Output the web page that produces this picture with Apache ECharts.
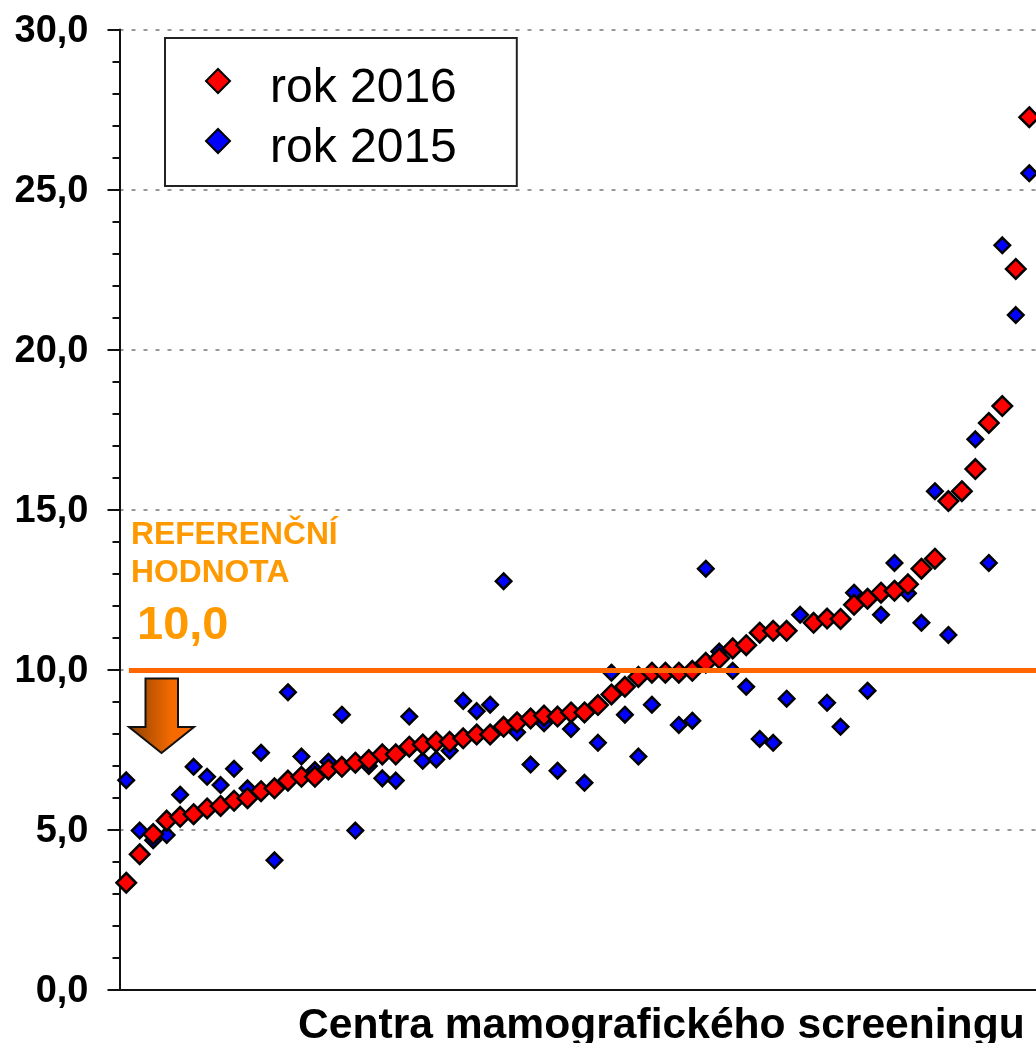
<!DOCTYPE html>
<html>
<head>
<meta charset="utf-8">
<style>html,body{margin:0;padding:0;background:#fff}#c{width:1036px;height:1043px}</style>
<script src="https://cdn.jsdelivr.net/npm/echarts@6/dist/echarts.min.js"></script>
</head>
<body>
<div id="c"></div>
<script>
const seriesNames = ['rok 2016', 'rok 2015'];
const values2016 = [3.35,4.24,4.87,5.29,5.41,5.49,5.67,5.75,5.91,5.99,6.21,6.30,6.54,6.66,6.66,6.89,6.97,7.10,7.18,7.36,7.36,7.60,7.67,7.75,7.75,7.86,7.98,7.98,8.22,8.36,8.48,8.57,8.54,8.67,8.67,8.90,9.23,9.47,9.78,9.91,9.91,9.91,9.97,10.22,10.36,10.67,10.77,11.16,11.22,11.22,null,11.47,11.60,11.59,12.03,12.22,12.41,12.47,12.67,13.16,13.47,15.27,15.58,16.27,17.71,18.24,22.52,27.26];
const values2015 = [6.55,4.98,4.68,4.84,6.10,6.97,6.66,6.40,6.91,6.30,7.41,4.05,9.30,7.29,6.87,7.13,8.60,4.98,7.00,6.61,6.54,8.54,7.16,7.20,7.47,9.03,8.71,8.91,12.77,8.05,7.04,8.33,6.85,8.15,6.47,7.72,9.91,8.60,7.29,8.91,null,8.28,8.41,13.16,10.57,9.97,9.47,7.84,7.72,9.10,11.72,null,8.97,8.22,12.41,9.35,11.72,13.34,12.39,11.47,15.58,11.09,null,17.20,13.34,23.26,21.08,25.51];
const referenceValue = 10;
const referenceSpan = [1.2, 68.5];
const centreCount = 68;
const yTicks = {min: 0, max: 30, step: 5};
const xTitle = 'Centra mamografického screeningu';
const refLines = ['REFERENČNÍ', 'HODNOTA'];
const refLabel = '10,0';

const toPoints = arr => arr.map((v, i) => v == null ? null : [i + 1, v]).filter(Boolean);
const FONT = '"Liberation Sans", Arial, sans-serif';
const chart = echarts.init(document.getElementById('c'), null, {renderer: 'canvas'});
chart.setOption({
  animation: false,
  backgroundColor: '#fff',
  grid: {left: 119.5, right: 0, top: 29.5, bottom: 53, containLabel: false},
  title: {text: xTitle, left: 298, top: 1004.5, padding: 0, textStyle: {fontFamily: FONT, fontWeight: 'bold', fontSize: 42.6, color: '#000'}},
  legend: {
    left: 165, top: 38, orient: 'vertical', icon: 'diamond', data: seriesNames,
    itemWidth: 24, itemHeight: 24, itemGap: -4, padding: [11, 60, 13, 40],
    backgroundColor: '#fff', borderColor: '#222', borderWidth: 2, borderRadius: 0, z: 20,
    formatter: name => '{a|' + name + '}',
    textStyle: {rich: {a: {fontFamily: FONT, fontSize: 48, lineHeight: 40, color: '#000', padding: [16, 0, 0, 35]}}}
  },
  xAxis: {
    type: 'value', min: 0.5, max: centreCount + 0.5,
    axisLine: {show: true, onZero: false, lineStyle: {color: '#111', width: 2}},
    axisTick: {show: false}, axisLabel: {show: false}, splitLine: {show: false}
  },
  yAxis: {
    type: 'value', min: yTicks.min, max: yTicks.max, interval: yTicks.step,
    axisLine: {show: true, lineStyle: {color: '#111', width: 2}},
    axisTick: {show: true, length: 12, lineStyle: {color: '#111', width: 2}},
    minorTick: {show: true, splitNumber: 5, length: 7, lineStyle: {color: '#111', width: 2}},
    axisLabel: {margin: 31,
      formatter: v => '{a|' + v.toFixed(1).replace('.', ',') + '}',
      rich: {a: {fontFamily: FONT, fontWeight: 'bold', fontSize: 38, color: '#000', padding: [4, 0, 0, 0]}}},
    splitLine: {show: true, lineStyle: {color: '#999', width: 2, type: [4, 8]}}
  },
  series: [
    {
      name: seriesNames[1], type: 'scatter', z: 2, symbol: 'diamond', symbolSize: 15.5,
      data: toPoints(values2015),
      itemStyle: {color: '#0000ff', borderColor: '#000', borderWidth: 2.5, opacity: 1}
    },
    {
      name: seriesNames[0], type: 'scatter', z: 3, symbol: 'diamond', symbolSize: 19.5,
      data: toPoints(values2016),
      itemStyle: {color: '#ff0000', borderColor: '#000', borderWidth: 2.5, opacity: 1},
      markLine: {
        silent: true, symbol: 'none', z: 10, animation: false,
        label: {show: false},
        lineStyle: {color: '#ff6600', width: 5, type: 'solid', opacity: 1},
        data: [[{coord: [referenceSpan[0], referenceValue]}, {coord: [referenceSpan[1], referenceValue]}]]
      }
    }
  ],
  graphic: [
    {type: 'text', z: 15, left: 131, top: 519, style: {text: refLines[0], font: 'bold 31.8px ' + FONT, fill: '#ff9900'}},
    {type: 'text', z: 15, left: 131, top: 557, style: {text: refLines[1], font: 'bold 31.8px ' + FONT, fill: '#ff9900'}},
    {type: 'text', z: 15, left: 137, top: 603, style: {text: refLabel, font: 'bold 47px ' + FONT, fill: '#ff9900'}},
    {type: 'polygon', z: 15, shape: {points: [[145.5,678.5],[178,678.5],[178,727],[194,727],[161.5,753],[129,727],[145.5,727]]},
      style: {stroke: '#111', lineWidth: 2,
        fill: new echarts.graphic.LinearGradient(0, 0, 1, 0, [
          {offset: 0, color: '#8a4000'}, {offset: 0.65, color: '#f56a00'}, {offset: 1, color: '#ff6a00'}])}}
  ]
});
</script>
</body>
</html>
